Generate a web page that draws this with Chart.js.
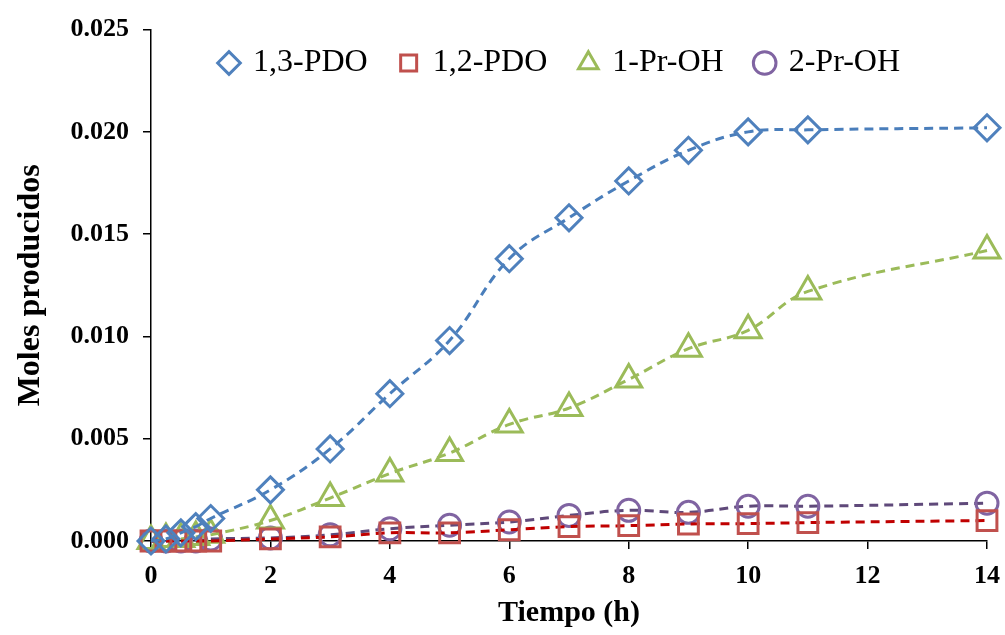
<!DOCTYPE html>
<html>
<head>
<meta charset="utf-8">
<script src="https://cdn.jsdelivr.net/npm/chart.js@4.4.1/dist/chart.umd.min.js"></script>
<style>
  html, body { margin: 0; padding: 0; background: #fff; }
  #wrap { width: 1005px; height: 635px; }
</style>
</head>
<body>
<div id="wrap"><canvas id="myCanvas" width="1005" height="635"></canvas></div>
<script>
// tiempo (h)
const tiempo = [0, 0.25, 0.5, 0.75, 1, 2, 3, 4, 5, 6, 7, 8, 9, 10, 11, 14];

// moles producidos por compuesto
const pdo13 = [0, 0.0001, 0.0004, 0.0007, 0.0011, 0.0025, 0.0045, 0.0072, 0.0098, 0.0138, 0.0158, 0.0176, 0.0191, 0.0200, 0.0201, 0.0202];
const pdo12 = [0, 0, 0, 0, 0, 0.0001, 0.0002, 0.0004, 0.0004, 0.00055, 0.0007, 0.00075, 0.00083, 0.00085, 0.0009, 0.0010];
const prOH1 = [0, 0.0001, 0.0001, 0.0002, 0.0003, 0.0010, 0.0021, 0.0033, 0.0043, 0.0057, 0.0065, 0.0079, 0.0094, 0.0103, 0.0122, 0.0142];
const prOH2 = [0, 0, 0, 0, 0.0001, 0.00015, 0.0003, 0.0006, 0.00077, 0.00093, 0.00125, 0.0015, 0.0014, 0.0017, 0.0017, 0.00185];

const xTicks = [0, 2, 4, 6, 8, 10, 12, 14];
const yTicks = [0, 0.005, 0.010, 0.015, 0.020, 0.025];

function toPoints(values) {
    return values.map((v, i) => ({ x: tiempo[i], y: v }));
}

function serie(label, values, lineColor, markColor, style, radius) {
    return {
        label: label,
        data: toPoints(values),
        borderColor: lineColor,
        borderWidth: 3,
        borderDash: [9, 6],
        tension: 0.4,
        fill: false,
        pointStyle: style,
        pointRadius: radius,
        pointBorderColor: markColor,
        pointBackgroundColor: "rgba(255,255,255,0)",
        pointBorderWidth: 3,
        clip: false,
    };
}

// la leyenda va dentro del area del grafico: no ocupa altura en el layout
const legendInside = {
    id: "legendInside",
    beforeInit(chart) {
        const fit = chart.legend.fit;
        chart.legend.fit = function () {
            fit.bind(chart.legend)();
            this.height = 0;
        };
    },
    afterLayout(chart) {
        const lg = chart.legend;
        lg.top = 14;
        lg.height = 110;
        lg.bottom = 124;
        lg.left += 67;
        lg.right += 67;
    },
};

const serif = "'Liberation Serif', 'Times New Roman', serif";

const ctx = document.getElementById("myCanvas").getContext("2d");

const chart = new Chart(ctx, {
    type: "line",
    data: {
        datasets: [
            serie("1,3-PDO", pdo13, "#4A7EBB", "#4F81BD", "rectRot", 13),
            serie("1,2-PDO", pdo12, "#C00000", "#C0504D", "rect", 14),
            serie("1-Pr-OH", prOH1, "#9BBB59", "#9BBB59", "triangle", 15),
            serie("2-Pr-OH", prOH2, "#5F497A", "#8064A2", "circle", 11),
        ],
    },
    plugins: [legendInside],
    options: {
        responsive: false,
        animation: false,
        layout: { padding: { left: 0, right: 18, top: 22, bottom: 0 } },
        plugins: {
            tooltip: { enabled: false },
            legend: {
                position: "top",
                labels: {
                    usePointStyle: true,
                    boxWidth: 16,
                    boxHeight: 16,
                    padding: 33,
                    color: "#000",
                    font: { family: serif, size: 32 },
                },
            },
        },
        scales: {
            x: {
                type: "linear",
                min: 0,
                max: 14,
                afterBuildTicks: (scale) => { scale.ticks = xTicks.map((v) => ({ value: v })); },
                afterFit: (scale) => {
                    scale.height = 94;
                    scale.paddingRight = 0;
                    scale.paddingLeft = 0;
                },
                border: { color: "#000", width: 1.5 },
                grid: { drawOnChartArea: false, color: "#000", tickLength: 8, lineWidth: 1.5 },
                ticks: {
                    color: "#000",
                    padding: 12,
                    font: { family: serif, size: 26, weight: "bold" },
                    callback: (v) => v,
                },
                title: {
                    display: true,
                    text: "Tiempo (h)",
                    color: "#000",
                    padding: { top: 4 },
                    font: { family: serif, size: 30, weight: "bold" },
                },
            },
            y: {
                type: "linear",
                min: 0,
                max: 0.025,
                afterBuildTicks: (scale) => { scale.ticks = yTicks.map((v) => ({ value: v })); },
                afterFit: (scale) => { scale.width = 151; },
                border: { color: "#000", width: 1.5 },
                grid: { drawOnChartArea: false, color: "#000", tickLength: 8, lineWidth: 1.5 },
                ticks: {
                    color: "#000",
                    padding: 14,
                    font: { family: serif, size: 26, weight: "bold" },
                    callback: (v) => v.toFixed(3),
                },
                title: {
                    display: true,
                    text: "Moles producidos",
                    color: "#000",
                    padding: { top: 12 },
                    font: { family: serif, size: 32, weight: "bold" },
                },
            },
        },
    },
});
</script>
</body>
</html>
